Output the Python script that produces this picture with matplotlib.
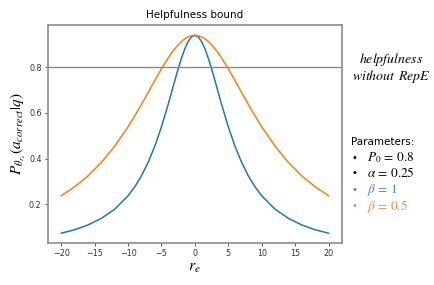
import numpy as np
import matplotlib
matplotlib.use('Agg')
import matplotlib.pyplot as plt

# values (right half, curves are symmetric about r_e = 0)
r_half = [0, 0.5, 1, 1.5, 2, 2.5, 3, 3.5, 4, 5, 6, 7, 8, 9, 10, 12, 14, 16, 18, 20]
p_beta1 = [0.940, 0.933, 0.913, 0.881, 0.840, 0.793, 0.742, 0.689, 0.637, 0.539,
           0.454, 0.383, 0.324, 0.276, 0.237, 0.178, 0.138, 0.109, 0.088, 0.073]
p_beta05 = [0.940, 0.938, 0.933, 0.925, 0.913, 0.898, 0.881, 0.862, 0.840, 0.793,
            0.742, 0.689, 0.637, 0.587, 0.539, 0.454, 0.383, 0.324, 0.276, 0.237]
p_baseline = 0.8

# mirror to the negative side
r = np.concatenate([-np.array(r_half[:0:-1]), r_half])
blue = np.concatenate([p_beta1[:0:-1], p_beta1])
orange = np.concatenate([p_beta05[:0:-1], p_beta05])

plt.rcParams['mathtext.fontset'] = 'stix'

fig = plt.figure(figsize=(4.35, 2.85), dpi=100)
ax = fig.add_axes([0.110, 0.147, 0.676, 0.764])

ax.plot(r, blue, color='#1f77b4', lw=1.1)
ax.plot(r, orange, color='#ff7f0e', lw=1.1)
ax.axhline(p_baseline, color='#8a8a8a', lw=1.0)

ax.set_xticks([-20, -15, -10, -5, 0, 5, 10, 15, 20])
ax.set_yticks([0.2, 0.4, 0.6, 0.8])
ax.tick_params(labelsize=5.8, length=2.5, width=0.6, colors='#333333', pad=2)
for s in ax.spines.values():
    s.set_color('#8c8c8c')
    s.set_linewidth(1.2)

ax.set_title('Helpfulness bound', fontsize=7.5, pad=5)
ax.set_xlabel(r'$r_e$', fontsize=11.5, labelpad=1)
ax.set_ylabel(r'$P_{\theta_{r_e}}(a_{correct}|q)$', fontsize=11, labelpad=1)

fig.text(0.899, 0.79, r'$helpfulness$', fontsize=10, ha='center', va='center')
fig.text(0.899, 0.733, r'$without\;\,RepE$', fontsize=10, ha='center', va='center')

fig.text(0.808, 0.502, 'Parameters:', fontsize=7.5, va='center')
items = [(r'$P_0\,=\,0.8$', 'black', 0.446),
         (r'$\alpha\,=\,0.25$', 'black', 0.393),
         (r'$\beta\,=\,1$', '#4a7fd0', 0.332),
         (r'$\beta\,=\,0.5$', '#f08a3c', 0.277)]
for txt, col, yy in items:
    fig.text(0.808, yy, '\u2022', fontsize=7, color=col, va='center')
    fig.text(0.843, yy, txt, fontsize=9.5, color=col, va='center')

fig.savefig('out.png', dpi=100)
